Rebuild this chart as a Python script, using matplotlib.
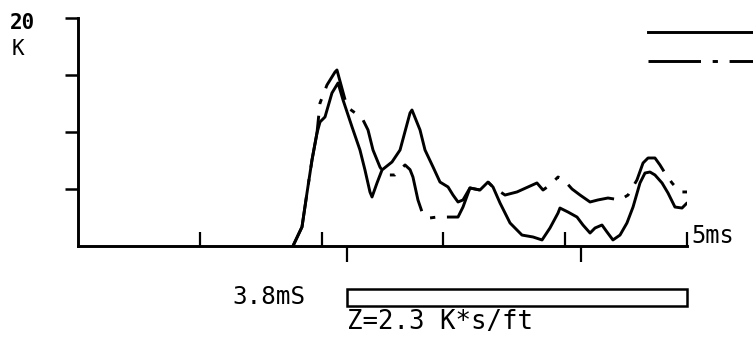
import matplotlib
matplotlib.use("Agg")
import matplotlib.pyplot as plt
from matplotlib.lines import Line2D
from matplotlib.patches import Rectangle

# Time (ms) and amplitude (K) of the solid trace
solid_t = [1.765, 1.839, 1.880, 1.921, 1.962, 1.987, 2.028, 2.085, 2.135, 2.176,
           2.250, 2.315, 2.356, 2.397, 2.414, 2.455, 2.496, 2.578, 2.644, 2.726,
           2.742, 2.808, 2.849, 2.915, 2.972, 3.038, 3.079, 3.120, 3.161, 3.218,
           3.300, 3.366, 3.407, 3.465, 3.547, 3.645, 3.736, 3.810, 3.875, 3.941,
           3.957, 4.023, 4.097, 4.146, 4.204, 4.245, 4.302, 4.343, 4.392, 4.450,
           4.507, 4.557, 4.614, 4.655, 4.696, 4.737, 4.795, 4.844, 4.901, 4.959,
           5.000]
solid_k = [0.0, 1.67, 4.65, 7.54, 9.91, 10.88, 11.32, 13.42, 14.30, 12.81,
           10.44, 8.42, 6.67, 4.74, 4.30, 5.53, 6.67, 7.37, 8.42, 11.67,
           11.93, 10.18, 8.42, 6.93, 5.61, 5.18, 4.47, 3.86, 4.04, 5.09,
           4.91, 5.61, 5.18, 3.77, 2.02, 0.96, 0.79, 0.53, 1.58, 2.89,
           3.33, 2.98, 2.54, 1.84, 1.14, 1.58, 1.84, 1.23, 0.53, 0.96,
           2.02, 3.42, 5.53, 6.40, 6.49, 6.23, 5.53, 4.65, 3.42, 3.33,
           3.77]

# Time (ms) and amplitude (K) of the dash-dot trace
dash_t = [1.765, 1.839, 1.880, 1.921, 1.962, 1.987, 2.044, 2.110, 2.126, 2.209,
          2.332, 2.381, 2.422, 2.479, 2.521, 2.603, 2.668, 2.685, 2.726, 2.750,
          2.791, 2.833, 2.890, 2.947, 3.030, 3.120, 3.161, 3.218, 3.300, 3.366,
          3.407, 3.506, 3.604, 3.768, 3.818, 3.875, 3.941, 3.982, 4.056, 4.122,
          4.204, 4.269, 4.351, 4.450, 4.516, 4.589, 4.639, 4.680, 4.737, 4.778,
          4.819, 4.877, 4.943, 5.000]
dash_k = [0.0, 1.67, 4.65, 7.54, 9.91, 12.54, 14.12, 15.26, 15.44, 12.19,
          11.23, 10.18, 8.42, 6.93, 6.23, 6.23, 6.93, 7.11, 6.70, 6.05,
          4.04, 2.72, 2.46, 2.54, 2.54, 2.54, 3.42, 5.09, 4.91, 5.61,
          5.18, 4.47, 4.74, 5.53, 4.91, 5.35, 6.05, 5.88, 5.00, 4.47,
          3.86, 4.04, 4.21, 4.04, 4.47, 5.79, 7.28, 7.72, 7.72, 7.11,
          6.40, 5.53, 4.74, 4.74]

y_ticks = [5, 10, 15, 20]
x_ticks = [1, 2, 3, 4, 5]
marker_times = [2.21, 4.13]
window = (2.21, 5.0)

mono = "DejaVu Sans Mono"
dashdot = (0, (18, 4, 1.8, 4))
lw = 2.1

fig = plt.figure(figsize=(7.53, 3.41), dpi=100)
ax = fig.add_axes([78 / 753, 1 - 246 / 341, (687 - 78) / 753, (246 - 18) / 341])
ax.set_xlim(0, 5)
ax.set_ylim(0, 20)

ax.plot(solid_t, solid_k, color="black", lw=lw, solid_joinstyle="round",
        solid_capstyle="round")
ax.plot(dash_t, dash_k, color="black", lw=lw, linestyle=dashdot,
        dash_joinstyle="round")

for s in ("top", "right"):
    ax.spines[s].set_visible(False)
for s in ("left", "bottom"):
    ax.spines[s].set_linewidth(2.1)

ax.set_yticks(y_ticks)
ax.set_yticklabels([])
ax.tick_params(axis="y", direction="out", length=9.5, width=1.8)
ax.set_xticks(x_ticks)
ax.set_xticklabels([])
ax.tick_params(axis="x", which="major", direction="in", length=10, width=1.6)
ax.set_xticks(marker_times, minor=True)
ax.tick_params(axis="x", which="minor", direction="out", length=11.5, width=1.6)

ax.text(5.04, 0.9, "5ms", family=mono, fontsize=17, ha="left", va="center",
        clip_on=False)

fig.text(10 / 753, 1 - 23 / 341, "20", family=mono, fontsize=15,
         fontweight="bold", ha="left", va="center")
fig.text(12 / 753, 1 - 49 / 341, "K", family=mono, fontsize=15, ha="left",
         va="center")

# Analysis window bar beneath the axis
ax.add_patch(Rectangle((window[0], -5.26), window[1] - window[0], 1.49,
                       facecolor="white", edgecolor="black", lw=1.8,
                       clip_on=False))
ax.text(1.87, -4.5, "3.8mS", family=mono, fontsize=17.5, ha="right",
        va="center", clip_on=False)
ax.text(window[0], -6.7, "Z=2.3 K*s/ft", family=mono, fontsize=18.5,
        ha="left", va="center", clip_on=False)

# Line key in the upper right corner
fig.add_artist(Line2D([648 / 753, 1.0], [1 - 32 / 341] * 2, color="black",
                      lw=lw))
fig.add_artist(Line2D([648 / 753, 1.0], [1 - 61 / 341] * 2, color="black",
                      lw=lw, linestyle=dashdot))

fig.savefig("out.png", dpi=100)
